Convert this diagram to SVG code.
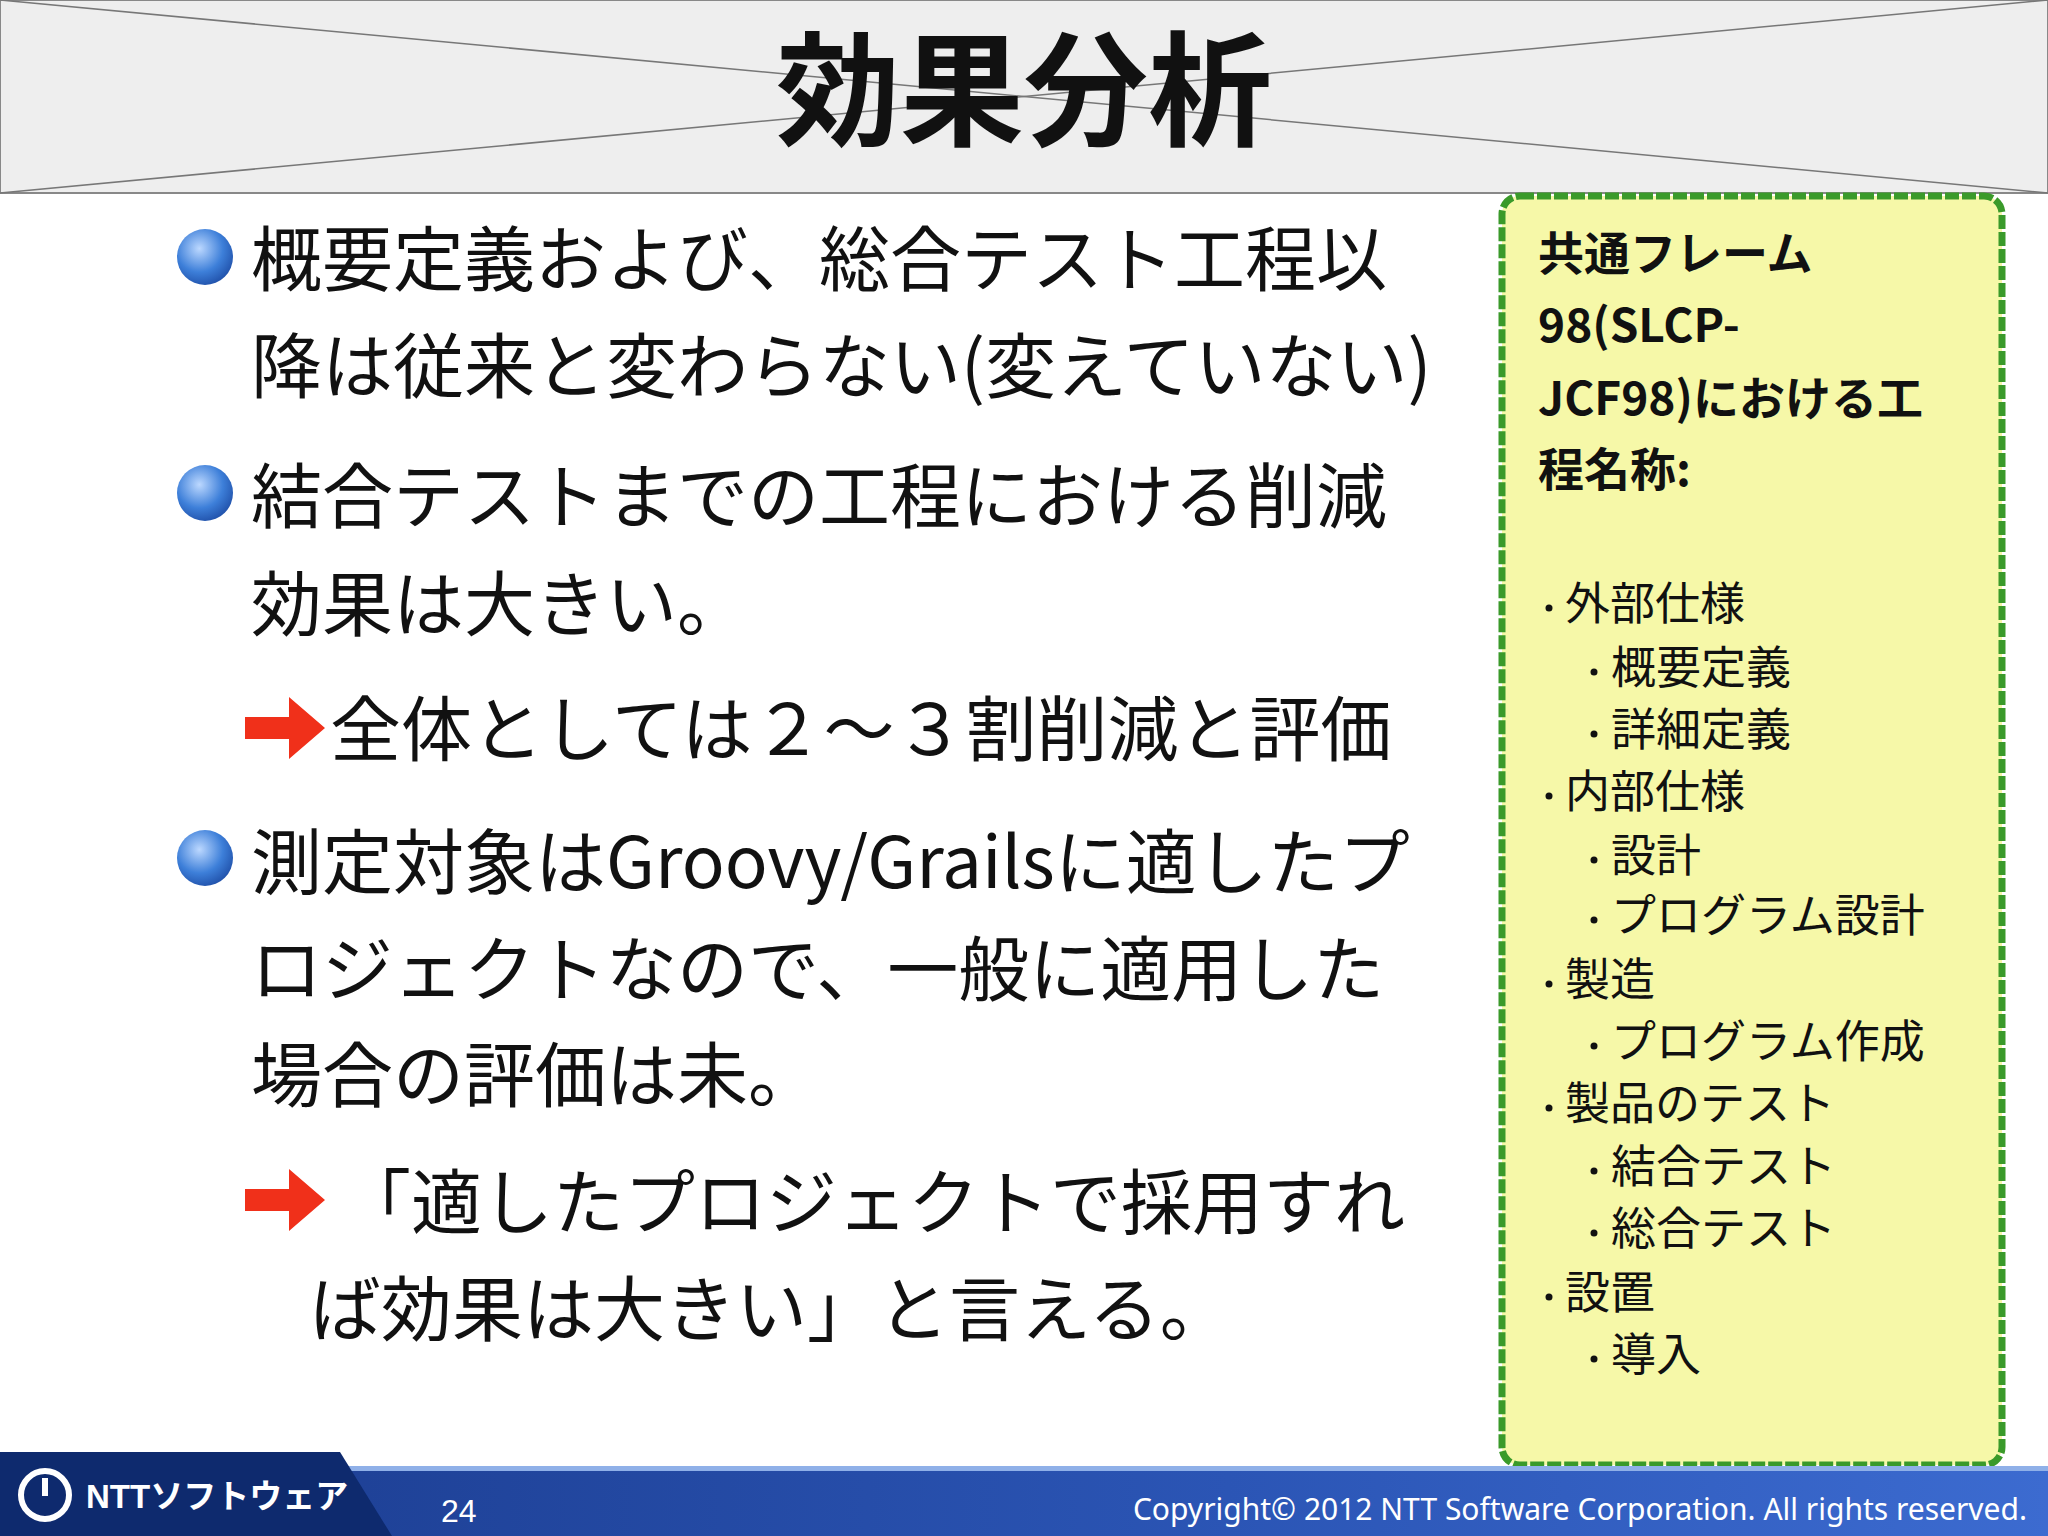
<svg xmlns="http://www.w3.org/2000/svg" width="2048" height="1536" viewBox="0 0 2048 1536">
<defs>
<radialGradient id="ball" cx="0.4" cy="0.35" r="0.7"><stop offset="0" stop-color="#bcd8ff"/><stop offset="0.6" stop-color="#3d7fd9"/><stop offset="1" stop-color="#1f4fa8"/></radialGradient>
<linearGradient id="foot" x1="0" y1="0" x2="1" y2="0"><stop offset="0" stop-color="#1a3a8c"/><stop offset="0.6" stop-color="#2b55b5"/><stop offset="1" stop-color="#3c6bd0"/></linearGradient>
<g id="arrow"><polygon points="0,-11 44,-11 44,-31 80,0 44,31 44,11 0,11" fill="#f0301a"/></g>
<circle id="b" r="28" fill="url(#ball)"/>
</defs>
<style>
.t{font-family:"Noto Sans CJK JP","Noto Sans",sans-serif;fill:#111}
.m{font-size:71px}
.s{font-size:45px}
.h{font-size:46px;font-weight:bold}
.d{fill:#111}
</style>
<rect width="2048" height="1536" fill="#fff"/>
<g id="header">
<rect x="0" y="0" width="2048" height="193" fill="#eeeeee" stroke="#888" stroke-width="2"/>
<line x1="0" y1="0" x2="2048" y2="193" stroke="#777" stroke-width="1.5"/>
<line x1="2048" y1="0" x2="0" y2="193" stroke="#777" stroke-width="1.5"/>
<text x="1024" y="136" text-anchor="middle" class="t" font-size="124" font-weight="bold">効果分析</text>
</g>
<g id="body">
<use href="#b" x="205" y="257"/>
<text x="251" y="285" class="t m">概要定義および、総合テスト工程以</text>
<text x="251" y="392" class="t m">降は従来と変わらない(変えていない)</text>
<use href="#b" x="205" y="493"/>
<text x="251" y="522" class="t m">結合テストまでの工程における削減</text>
<text x="251" y="630" class="t m">効果は大きい。</text>
<use href="#arrow" x="245" y="728"/>
<text x="330" y="755" class="t m">全体としては２～３割削減と評価</text>
<use href="#b" x="205" y="858"/>
<text x="251" y="888" class="t m">測定対象はGroovy/Grailsに適したプ</text>
<text x="251" y="995" class="t m">ロジェクトなので、一般に適用した</text>
<text x="251" y="1101" class="t m">場合の評価は未。</text>
<use href="#arrow" x="245" y="1200"/>
<text x="340" y="1228" class="t m">「適したプロジェクトで採用すれ</text>
<text x="310" y="1335" class="t m">ば効果は大きい」と言える。</text>
</g>
<g id="sidebox">
<rect x="1502" y="196" width="500" height="1269" rx="18" fill="#f6f8a8" stroke="#3a9a2a" stroke-width="7" stroke-dasharray="14 3"/>
<text x="1538" y="270" class="t h">共通フレーム</text>
<text x="1538" y="342" class="t h">98(SLCP-</text>
<text x="1538" y="415" class="t h">JCF98)における工</text>
<text x="1538" y="486" class="t h">程名称:</text>
<g class="d">
<circle cx="1549" cy="608" r="3.5"/><circle cx="1594" cy="672" r="3.5"/><circle cx="1594" cy="734" r="3.5"/>
<circle cx="1549" cy="796" r="3.5"/><circle cx="1594" cy="860" r="3.5"/><circle cx="1594" cy="920" r="3.5"/>
<circle cx="1549" cy="984" r="3.5"/><circle cx="1594" cy="1046" r="3.5"/><circle cx="1549" cy="1108" r="3.5"/>
<circle cx="1594" cy="1171" r="3.5"/><circle cx="1594" cy="1233" r="3.5"/><circle cx="1549" cy="1297" r="3.5"/>
<circle cx="1594" cy="1359" r="3.5"/>
</g>
<g class="t s">
<text x="1565" y="620">外部仕様</text>
<text x="1611" y="684">概要定義</text>
<text x="1611" y="746">詳細定義</text>
<text x="1565" y="808">内部仕様</text>
<text x="1611" y="872">設計</text>
<text x="1611" y="932">プログラム設計</text>
<text x="1565" y="996">製造</text>
<text x="1611" y="1058">プログラム作成</text>
<text x="1565" y="1120">製品のテスト</text>
<text x="1611" y="1183">結合テスト</text>
<text x="1611" y="1245">総合テスト</text>
<text x="1565" y="1309">設置</text>
<text x="1611" y="1371">導入</text>
</g>
</g>
<g id="footer">
<rect x="0" y="1466" width="2048" height="70" fill="url(#foot)"/>
<rect x="0" y="1466" width="2048" height="5" fill="#8fb0e8"/>
<polygon points="0,1452 340,1452 392,1536 0,1536" fill="#0e2a6e"/>
<circle cx="45" cy="1495" r="24" fill="none" stroke="#fff" stroke-width="6"/>
<line x1="45" y1="1478" x2="45" y2="1496" stroke="#fff" stroke-width="6"/>
<text x="86" y="1508" font-family="Liberation Sans,Noto Sans CJK JP,sans-serif" font-size="33" font-weight="bold" fill="#fff">NTTソフトウェア</text>
<text x="441" y="1522" font-family="Liberation Sans,sans-serif" font-size="32" fill="#fff">24</text>
<text x="2027" y="1520" text-anchor="end" font-family="Noto Sans,sans-serif" font-size="30" fill="#fff">Copyright© 2012 NTT Software Corporation. All rights reserved.</text>
</g>
</svg>
